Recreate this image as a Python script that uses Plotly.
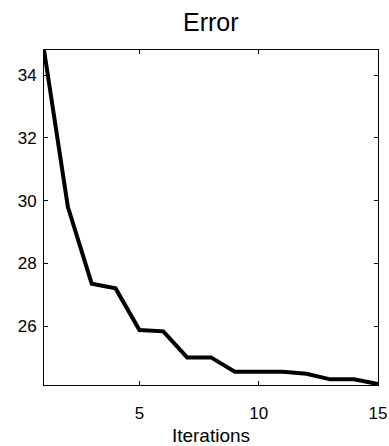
import plotly.graph_objects as go

iterations = list(range(1, 16))
error = [34.8, 29.8, 27.35, 27.2, 25.87, 25.83, 25.0, 25.0, 24.54, 24.54, 24.54, 24.48, 24.3, 24.3, 24.15]

x_ticks = [5, 10, 15]
y_ticks = [26, 28, 30, 32, 34]

fig = go.Figure()
fig.add_trace(go.Scatter(x=iterations, y=error, mode="lines",
                         line=dict(color="black", width=4), showlegend=False))

font = "Liberation Sans, Arial, sans-serif"
fig.update_layout(
    width=389, height=446,
    margin=dict(l=44, r=11, t=50, b=61),
    paper_bgcolor="white", plot_bgcolor="white",
    font=dict(family=font, color="black", size=17),
    title=dict(text="Error", x=0.542, xanchor="center", y=1 - 22/446, yanchor="middle",
               yref="container", font=dict(size=25, family=font, color="black")),
)
fig.update_xaxes(range=[1, 15], tickvals=x_ticks, ticks="inside", ticklen=4, tickcolor="black",
                 showline=True, linecolor="black", linewidth=1, mirror="ticks",
                 showgrid=False, zeroline=False, ticklabelstandoff=13, automargin=False,
                 title=dict(text="Iterations", font=dict(size=19), standoff=7))
fig.update_yaxes(range=[24.12, 34.8], tickvals=y_ticks, ticks="inside", ticklen=4, tickcolor="black",
                 showline=True, linecolor="black", linewidth=1, mirror="ticks",
                 showgrid=False, zeroline=False, ticklabelstandoff=3, automargin=False)

fig.write_html("out.html")
